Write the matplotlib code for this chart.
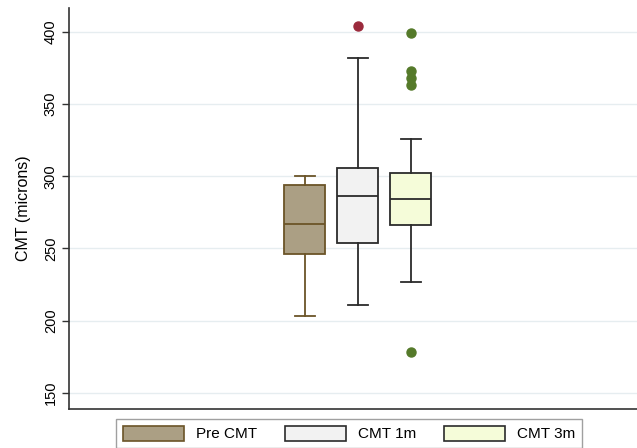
import matplotlib
matplotlib.use("Agg")
import matplotlib.pyplot as plt
from matplotlib.patches import Patch

plt.rcParams['font.family'] = ['Liberation Sans', 'DejaVu Sans']

groups = ["Pre CMT", "CMT 1m", "CMT 3m"]
whislo = [203, 211, 227]
q1 = [246, 254, 266]
med = [267, 286, 284]
q3 = [294, 306, 302]
whishi = [300, 382, 326]
outliers = [[], [404], [399, 373, 368, 363, 178]]

fills = ["#ab9f84", "#f2f2f2", "#f5fcd9"]
edges = ["#6b5428", "#2b2b2b", "#2b2b2b"]
flier_colors = ["#8a2b3a", "#9b2a3c", "#557a2a"]

fig = plt.figure(figsize=(6.37, 4.48), dpi=100)
ax = fig.add_axes([69/637, 1-409/448, 1-69/637, (409-8)/448])

stats = []
for i, g in enumerate(groups):
    stats.append(dict(label=g, whislo=whislo[i], q1=q1[i], med=med[i],
                      q3=q3[i], whishi=whishi[i], fliers=outliers[i]))

positions = [0, 1, 2]
for i in range(3):
    ax.bxp([stats[i]], positions=[positions[i]], widths=0.77, patch_artist=True,
           showfliers=True,
           boxprops=dict(facecolor=fills[i], edgecolor=edges[i], linewidth=1.3),
           medianprops=dict(color=edges[i], linewidth=1.3),
           whiskerprops=dict(color=edges[i], linewidth=1.3),
           capprops=dict(color=edges[i], linewidth=1.3),
           capwidths=0.38,
           flierprops=dict(marker='o', markerfacecolor=flier_colors[i],
                           markeredgecolor=flier_colors[i], markersize=6.5))

ax.set_xlim(-4.45, 6.27)
ax.set_ylim(138.7, 416.6)
ax.set_xticks([])
ax.set_yticks([150, 200, 250, 300, 350, 400])
ax.tick_params(axis='y', labelsize=10.5, length=5, width=1, color='#333333',
               pad=3, labelrotation=90)
for lab in ax.get_yticklabels():
    lab.set_va('center')
ax.yaxis.grid(True, color='#e6edf0', linewidth=1)
ax.set_axisbelow(True)
ax.set_ylabel("CMT (microns)", fontsize=11.5, labelpad=9)
for s in ['top', 'right']:
    ax.spines[s].set_visible(False)
ax.spines['left'].set_color('#333333')
ax.spines['bottom'].set_color('#333333')
ax.spines['left'].set_linewidth(1.2)
ax.spines['bottom'].set_linewidth(1.2)

handles = [Patch(facecolor=fills[i], edgecolor=edges[i], linewidth=1.2) for i in range(3)]
leg = fig.legend(handles, groups, ncol=3, loc='upper left',
                 bbox_to_anchor=(116/637, 1-419/448), fontsize=11,
                 frameon=True, fancybox=False, edgecolor='#888888',
                 handlelength=4.0, handleheight=1.1, handletextpad=0.8,
                 columnspacing=1.8, borderpad=0.45, borderaxespad=0)
leg.get_frame().set_linewidth(1.0)

fig.savefig("out.png", dpi=100)
